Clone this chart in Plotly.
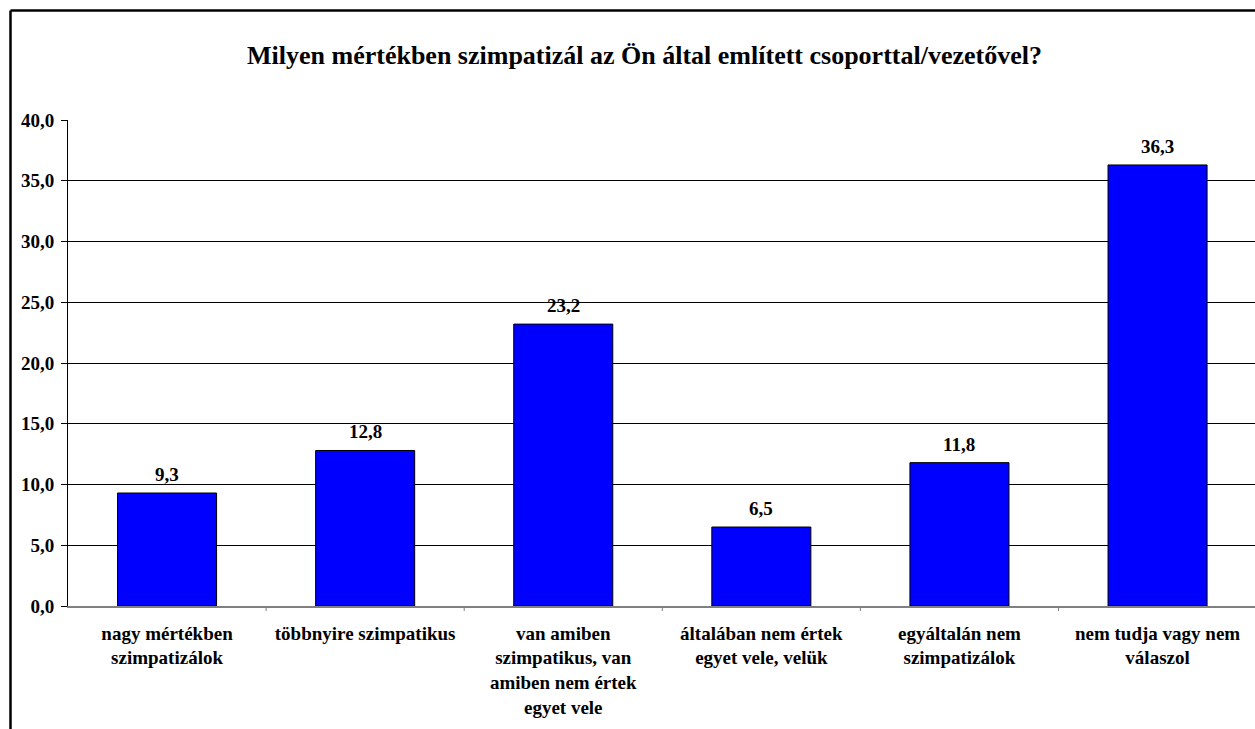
import plotly.graph_objects as go

categories = [
    "nagy mértékben<br>szimpatizálok",
    "többnyire szimpatikus",
    "van amiben<br>szimpatikus, van<br>amiben nem értek<br>egyet vele",
    "általában nem értek<br>egyet vele, velük",
    "egyáltalán nem<br>szimpatizálok",
    "nem tudja vagy nem<br>válaszol",
]
values = [9.3, 12.8, 23.2, 6.5, 11.8, 36.3]
y_ticks = [0, 5, 10, 15, 20, 25, 30, 35, 40]

title_text = "Milyen mértékben szimpatizál az Ön által említett csoporttal/vezetővel?"

SERIF = "Times New Roman"
W, H = 1255, 729
ML, MT, MB = 68, 120, 123
plot_w = W - ML
plot_h = H - MT - MB


def px_x(px):
    return (px - ML) / plot_w


def px_y(py):
    return (H - MB - py) / plot_h


fig = go.Figure()
fig.add_trace(go.Bar(
    x=list(range(len(categories))),
    y=values,
    marker=dict(color="#0000FF", line=dict(color="#000000", width=1)),
    hoverinfo="skip",
))

# value labels above each bar
for i, v in enumerate(values):
    fig.add_annotation(
        x=i, y=v, text="<b>" + f"{v:.1f}".replace(".", ",") + "</b>",
        showarrow=False, yanchor="bottom", yshift=6,
        font=dict(family=SERIF, size=19, color="#000000"),
    )

# chart-area frame (left and top edges)
frame = dict(color="#000000", width=2.5)
fig.add_shape(type="line", xref="paper", yref="paper",
              x0=px_x(10.5), x1=px_x(10.5), y0=px_y(10.5), y1=px_y(760), line=frame)
fig.add_shape(type="line", xref="paper", yref="paper",
              x0=px_x(10.5), x1=px_x(1270), y0=px_y(10.5), y1=px_y(10.5), line=frame)

fig.update_layout(
    width=W, height=H,
    margin=dict(l=ML, r=0, t=MT, b=MB, pad=0),
    paper_bgcolor="#FFFFFF", plot_bgcolor="#FFFFFF",
    bargap=0.5,
    showlegend=False,
    title=dict(
        text="<b>" + title_text + "</b>",
        x=644.5 / W, xanchor="center", xref="container",
        y=1 - 55 / H, yanchor="middle", yref="container",
        font=dict(family=SERIF, size=26, color="#000000"),
    ),
    font=dict(family=SERIF, color="#000000"),
)

fig.update_xaxes(
    type="linear",
    tickmode="array",
    tickvals=list(range(len(categories))),
    ticktext=["<b>" + c + "</b>" for c in categories],
    range=[-0.5, -0.5 + plot_w / 198.1],
    showgrid=False, zeroline=False,
    showline=True, linecolor="#808080", linewidth=1.5,
    ticks="", tickfont=dict(family=SERIF, size=19, color="#000000"),
    ticklabelstandoff=9,
)
# tick marks between categories
for k in range(1, len(categories)):
    fig.add_shape(type="line", xref="x", yref="paper",
                  x0=k - 0.5, x1=k - 0.5, y0=0, y1=px_y(H - MB + 5),
                  line=dict(color="#808080", width=1))

fig.update_yaxes(
    range=[0, 40],
    tickmode="array", tickvals=y_ticks,
    ticktext=["<b>" + f"{t:.1f}".replace(".", ",") + "</b>" for t in y_ticks],
    showgrid=True, gridcolor="#000000", gridwidth=1,
    zeroline=False,
    showline=True, linecolor="#000000", linewidth=1,
    ticks="outside", ticklen=6, tickcolor="#000000", tickwidth=1,
    tickfont=dict(family=SERIF, size=19, color="#000000"),
    ticklabelstandoff=3,
)

fig.write_html("out.html")
